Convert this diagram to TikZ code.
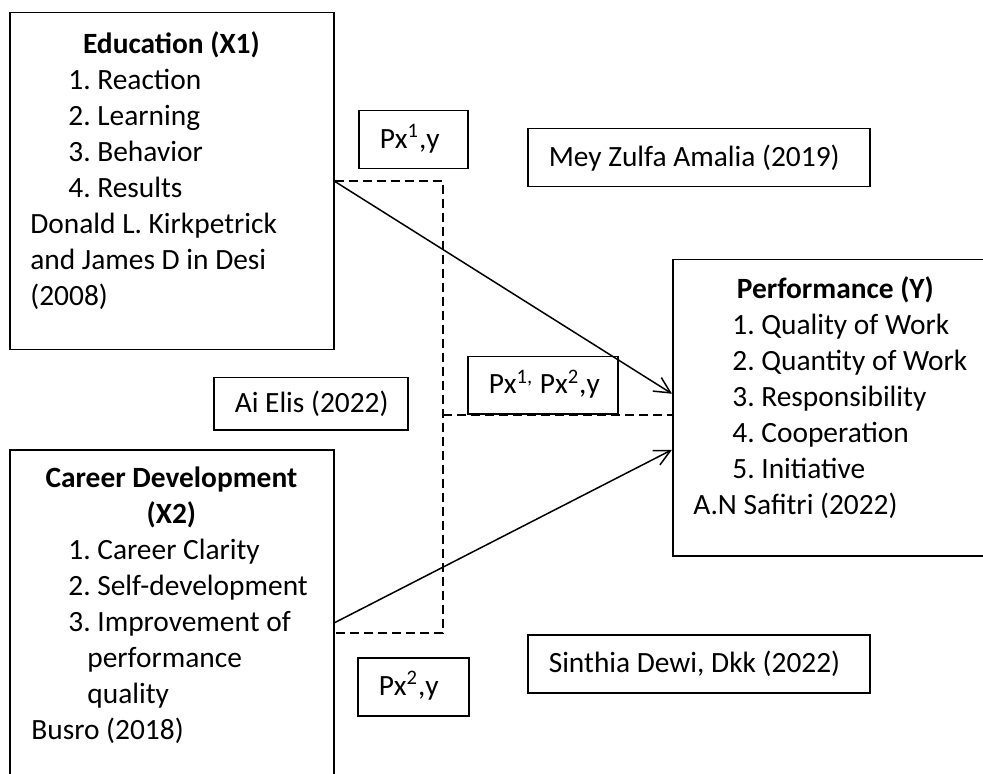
\documentclass[tikz,border=0pt]{standalone}
\usepackage{fontspec}
\setmainfont{Carlito}
\usetikzlibrary{arrows.meta}

\begin{document}
\begin{tikzpicture}[
				x=0.5pt, y=-0.5pt,
				font=\fontsize{14.7}{18}\selectfont\frenchspacing,
				bigbox/.style={rectangle, draw=black, line width=0.75pt, anchor=north west, inner sep=0pt},
				boxtext/.style={anchor=north west, inner sep=0pt, align=flush left},
				smallbox/.style={rectangle, draw=black, line width=0.75pt, anchor=north west, inner xsep=10.5pt, inner ysep=0pt, minimum height=29pt, align=flush left, text height=11pt, text depth=2.5pt},
				arrow/.style={-{Straight Barb[length=8pt, width=8pt]}, line width=0.75pt},
				dashline/.style={dash pattern=on 4.5pt off 2.5pt, line width=0.75pt}
				]
				
				\path[use as bounding box, clip] (0,0) rectangle (983,774);
				
				\node[bigbox, minimum width=162pt, minimum height=168.5pt] (edu) at (9,12) {};
				\node[bigbox, minimum width=162pt, minimum height=173pt] (car) at (9,449) {};
				\node[bigbox, minimum width=163pt, minimum height=148pt] (perf) at (672,259) {};
				
				\node[boxtext, text width=141pt] (edutext) at (30,28) {\makebox[\hsize]{\strut\textbf{Education (X1)}}\\
					\hspace*{19pt}1. Reaction\\
					\hspace*{19pt}2. Learning\\
					\hspace*{19pt}3. Behavior\\
					\hspace*{19pt}4. Results\\
					Donald L. Kirkpetrick\\
					and James D in Desi\\
					(2008)};
				\node[boxtext, text width=140pt] (cartext) at (31,462) {\makebox[\hsize]{\strut\textbf{Career Development}}\\
					\makebox[\hsize]{\textbf{(X2)}}\\
					\hspace*{18.5pt}1. Career Clarity\\
					\hspace*{18.5pt}2. Self-development\\
					\hspace*{18.5pt}3. Improvement of\\
					\hspace*{28pt}performance\\
					\hspace*{28pt}quality\\
					Busro (2018)};
				\node[boxtext, text width=142pt] (perftext) at (693,273) {\makebox[\hsize]{\strut\textbf{Performance (Y)}}\\
					\hspace*{19.5pt}1. Quality of Work\\
					\hspace*{19.5pt}2. Quantity of Work\\
					\hspace*{19.5pt}3. Responsibility\\
					\hspace*{19.5pt}4. Cooperation\\
					\hspace*{19.5pt}5. Initiative\\
					A.N Safitri (2022)};
				
				\node[smallbox, text width=33.5pt] (pxone) at (358,110) {\mbox{Px\textsuperscript{1},y}};
				\node[smallbox, text width=150pt] (mey) at (527,128) {\mbox{Mey Zulfa Amalia (2019)}};
				\node[smallbox, text width=54pt, minimum height=28.5pt] (pxboth) at (467,356) {\mbox{Px\textsuperscript{1,} Px\textsuperscript{2},y}};
				\node[smallbox, text width=76pt, minimum height=26pt] (elis) at (213,377) {\mbox{Ai Elis (2022)}};
				\node[smallbox, text width=34.5pt] (pxtwo) at (357,657) {\mbox{Px\textsuperscript{2},y}};
				\node[smallbox, text width=150pt] (sinthia) at (527,634) {\mbox{Sinthia Dewi, Dkk (2022)}};
				
				\coordinate (jmid) at (443,415);
				\coordinate (jbot) at (443,633);
				
				\draw[dashline] (edu.east) -| (jbot) -- (jbot -| car.east);
				\draw[dashline] (jmid) -- (jmid -| perf.west);
				
				\draw[arrow] (edu.east) -- ([yshift=7pt]perf.west);
				\draw[arrow] (car.east) -- ([yshift=-21pt]perf.west);
				
			\end{tikzpicture}
\end{document}
